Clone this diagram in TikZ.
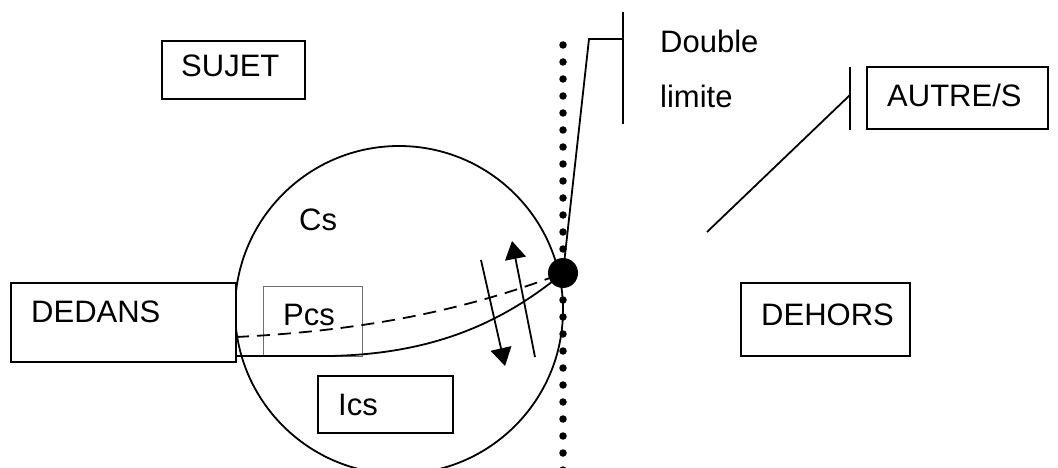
\documentclass[tikz,border=0pt]{standalone}
\usepackage{fontspec}
\setmainfont{Liberation Sans}
\usetikzlibrary{arrows.meta,calc}
\definecolor{Ink}{RGB}{0,0,0}
\definecolor{Frame}{RGB}{110,110,110}
\tikzset{
  lbox/.style={rectangle,draw=Ink,line width=1.8pt,inner sep=0pt,fill=white},
  sbox/.style={lbox,draw=Frame,line width=1pt,fill=none},
  lbl/.style={anchor=base west,inner sep=0pt,font=\fontsize{31}{37}\selectfont},
  trait/.style={draw=Ink,line width=1.8pt},
  flux/.style={trait,-{Triangle[length=18pt,width=21pt]}},
  pointille/.style={draw=Ink,line width=7.5pt,line cap=round,dash pattern=on 0pt off 17pt},
}
\begin{document}
\begin{tikzpicture}[x=1pt,y=-1pt]
  \useasboundingbox (0,0) rectangle (1058,468);
  % boites
  \node[lbox,minimum width=143pt,minimum height=58pt] (sujet) at (233.5,70) {};
  \node[lbox,minimum width=181pt,minimum height=62pt] (autres) at (957.5,98) {};
  \node[lbox,minimum width=169pt,minimum height=73pt] (dehors) at (825.5,319.5) {};
  % cercle
  \node[circle,trait,minimum size=328pt,inner sep=0pt] (cs) at (399,310) {};
  \node[lbox,minimum width=225pt,minimum height=79pt] (dedans) at (123.5,322.5) {};
  \node[sbox,minimum width=99pt,minimum height=70pt] (pcs) at (312.5,321) {};
  \node[lbox,minimum width=135pt,minimum height=57pt] (ics) at (385.5,404.5) {};
  % textes
  \node[lbl] (sujet-t) at (181,77) {SUJET};
  \node[lbl] (double-t) at (660,53) {Double};
  \node[lbl] (limite-t) at (660,108) {limite};
  \node[lbl] (autres-t) at (887,107) {AUTRE/S};
  \node[lbl] (dehors-t) at (761,325) {DEHORS};
  \node[lbl] (dedans-t) at (31,322) {DEDANS};
  \node[lbl] (pcs-t) at (283,325) {Pcs};
  \node[lbl] (ics-t) at (338,415) {Ics};
  \node[lbl] (cs-t) at (299,230) {Cs};
  % limite
  \coordinate (lim-h) at (563,45);
  \coordinate (lim-b) at (563,472);
  \draw[pointille] (lim-h) -- (lim-b);
  \node[circle,fill=Ink,minimum size=30pt,inner sep=0pt] (pt) at (563,273) {};
  \coordinate (k1) at (589,39);
  \coordinate (k2) at (623,39);
  \coordinate (v1) at (623,12);
  \coordinate (v2) at (623,124);
  \draw[trait] (pt.center) -- (k1) -- (k2);
  \draw[trait] (v1) -- (v2);
  \coordinate (d1) at (707,232);
  \coordinate (d2) at (850,95);
  \coordinate (w1) at (850,67);
  \coordinate (w2) at (850,130);
  \draw[trait] (d1) -- (d2);
  \draw[trait] (w1) -- (w2);
  % liens dedans -> point
  \coordinate (c-plein) at (236,356);
  \coordinate (c-tiret) at (236,337);
  \draw[trait] (c-plein) -- (330,356) .. controls (430,354) and (500,325) .. (pt.center);
  \draw[trait,dash pattern=on 13pt off 8pt] (c-tiret) .. controls (380,330) and (480,305) .. (pt.center);
  % fleches
  \coordinate (f1a) at (481,260);
  \coordinate (f1b) at (505,366);
  \coordinate (f2a) at (535,357);
  \coordinate (f2b) at (512,241);
  \draw[flux] (f1a) -- (f1b);
  \draw[flux] (f2a) -- (f2b);
\end{tikzpicture}
\end{document}
